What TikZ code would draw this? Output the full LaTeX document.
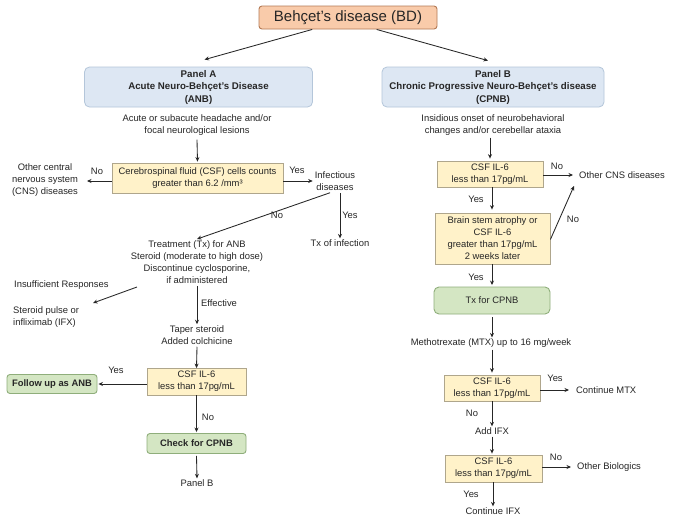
\documentclass[tikz,border=0pt]{standalone}
\usepackage{fontspec}
\setmainfont{Liberation Sans}
\usetikzlibrary{arrows.meta,calc}
\definecolor{peachfill}{HTML}{F9CBAA}
\definecolor{peachline}{HTML}{B47A55}
\definecolor{bluefill}{HTML}{DDE7F3}
\definecolor{blueline}{HTML}{B4C6DA}
\definecolor{yelfill}{HTML}{FFF2C9}
\definecolor{yelline}{HTML}{AFA68C}
\definecolor{grnfill}{HTML}{D4E6C3}
\definecolor{grnline}{HTML}{8FAE7B}
\definecolor{inkc}{HTML}{262626}
\tikzset{
  txt/.style={font=\fontsize{9.4}{12.2}\selectfont, text=inkc, align=center, inner sep=2pt},
  lbl/.style={font=\fontsize{9.4}{12}\selectfont, text=inkc, inner sep=0pt},
  yelbox/.style={draw=yelline, fill=yelfill, line width=0.8pt, align=center, inner sep=0pt,
     font=\fontsize{9.4}{12}\selectfont, text=inkc},
  grnbox/.style={draw=grnline, fill=grnfill, line width=0.9pt, rounded corners=3pt, align=center,
     inner sep=0pt, font=\fontsize{9.4}{12}\selectfont, text=inkc},
  bluebox/.style={draw=blueline, fill=bluefill, line width=0.8pt, rounded corners=5pt, align=center,
     inner sep=0pt, font=\bfseries\fontsize{9.7}{12.5}\selectfont, text=inkc},
  arr/.style={draw=inkc, line width=0.85pt, -{Stealth[length=4.5pt,width=4pt]}},
  ln/.style={draw=inkc, line width=0.85pt},
}
\begin{document}
\begin{tikzpicture}[x=1pt,y=-1pt]
\useasboundingbox[fill=white] (0,0) rectangle (673,517);

% top
\node[draw=peachline, fill=peachfill, line width=0.9pt, rounded corners=3pt, minimum width=178pt,
  minimum height=23pt, inner sep=0pt, font=\fontsize{15}{17}\selectfont, text=inkc] (bd) at (348,17.5) {Behçet's disease (BD)};
\node[bluebox, minimum width=228pt, minimum height=40pt] (pa) at (198.5,87)
  {Panel A\\Acute Neuro-Behçet's Disease\\(ANB)};
\node[bluebox, minimum width=222pt, minimum height=40pt] (pb) at (493,87)
  {Panel B\\Chronic Progressive Neuro-Behçet's disease\\(CPNB)};
\draw[arr] ($(bd.south west)!0.3!(bd.south east)$) -- ([xshift=6pt,yshift=7pt]pa.north);
\draw[arr] ($(bd.south west)!0.66!(bd.south east)$) -- ([xshift=-5pt,yshift=6pt]pb.north);

% Panel A
\node[txt] (acute) at (197,125) {Acute or subacute headache and/or\\focal neurological lesions};
\node[yelbox, minimum width=171pt, minimum height=30pt] (csf) at (197.5,178)
  {Cerebrospinal fluid (CSF) cells counts\\greater than 6.2 /mm³};
\draw[arr] ([yshift=-2pt]acute.south) -- ([yshift=1pt]csf.north);
\node[txt] (other) at (45,180) {Other central\\nervous system\\(CNS) diseases};
\coordinate (otherend) at (87,181);
\draw[arr] (csf.west |- otherend) -- (otherend);
\node[lbl] at (97,171) {No};
\node[txt] (infect) at (335,181) {Infectious\\diseases};
\draw[arr] (csf.east |- 0,181) -- (infect.west);
\node[lbl] at (297,170) {Yes};
\node[txt] (txinf) at (340,243) {Tx of infection};
\node[txt] (treat) at (197,262)
  {Treatment (Tx) for ANB\\Steroid (moderate to high dose)\\Discontinue cyclosporine,\\if administered};
\draw[arr] ([xshift=-5pt]infect.south) -- ([yshift=-1pt]treat.north);
\node[lbl] at (277,215) {No};
\draw[arr] (txinf.north |- infect.south) -- ([yshift=-1pt]txinf.north);
\node[lbl] at (350,215) {Yes};
\node[lbl, anchor=west] (insuf) at (14,285) {Insufficient Responses};
\node[txt, align=left, anchor=west] (pulse) at (11,317) {Steroid pulse or\\infliximab (IFX)};
\coordinate (insA) at (137,287);
\coordinate (insB) at (93,303);
\draw[arr] (insA) -- (insB);
\node[txt] (taper) at (197,335) {Taper steroid\\Added colchicine};
\draw[arr] (treat.south) -- ([yshift=-1pt]taper.north);
\node[lbl] at (219,303) {Effective};
\node[yelbox, minimum width=99pt, minimum height=27pt] (il6a) at (196.5,381.5)
  {CSF IL-6\\less than 17pg/mL};
\draw[arr] (taper.south) -- ([yshift=-0.5pt]il6a.north);
\node[grnbox, minimum width=90pt, minimum height=19pt, font=\bfseries\fontsize{9.4}{12}\selectfont] (follow) at (52,384)
  {Follow up as ANB};
\draw[arr] (il6a.west |- follow.east) -- ([xshift=1pt]follow.east);
\node[lbl] at (116,370) {Yes};
\node[grnbox, minimum width=99pt, minimum height=20pt, font=\bfseries\fontsize{9.4}{12}\selectfont] (check) at (196.5,443.5)
  {Check for CPNB};
\draw[arr] (il6a.south) -- ([yshift=1pt]check.north);
\node[lbl] at (208,417) {No};
\node[txt] (panelbt) at (197,483) {Panel B};
\draw[arr] ([yshift=-2pt]check.south) -- ([yshift=-1pt]panelbt.north);

% Panel B
\node[txt] (insid) at (493,125) {Insidious onset of neurobehavioral\\changes and/or cerebellar ataxia};
\node[yelbox, minimum width=106pt, minimum height=26pt] (b1) at (490,174)
  {CSF IL-6\\less than 17pg/mL};
\draw[arr] (b1.north |- insid.south) -- ([yshift=2pt]b1.north);
\node[lbl, anchor=west] (othercns) at (579,175) {Other CNS diseases};
\draw[arr] (b1.east |- othercns.west) -- ([xshift=-6pt]othercns.west);
\node[lbl] at (557,166) {No};
\node[yelbox, minimum width=115pt, minimum height=51pt] (b2) at (492.5,238.5)
  {Brain stem atrophy or\\CSF IL-6\\greater than 17pg/mL\\2 weeks later};
\draw[arr] (b1.south -| 492,0) -- ([yshift=3pt]b2.north -| 492,0);
\node[lbl] at (476,199) {Yes};
\draw[arr] ([yshift=-1pt]b2.east) -- ([xshift=-5pt,yshift=-11pt]othercns.west);
\node[lbl] at (573,219) {No};
\node[grnbox, rounded corners=5pt, minimum width=116pt, minimum height=27pt] (tx) at (492,300.5)
  {Tx for CPNB};
\draw[arr] (b2.south -| 492,0) -- ([yshift=1.5pt]tx.north);
\node[lbl] at (476,277) {Yes};
\node[txt] (mtx) at (491,343) {Methotrexate (MTX) up to 16 mg/week};
\draw[arr] ([yshift=-3pt]tx.south) -- ([yshift=-1pt]mtx.north -| tx.south);
\node[yelbox, minimum width=96pt, minimum height=26pt] (b3) at (492,388)
  {CSF IL-6\\less than 17pg/mL};
\draw[arr] (mtx.south -| b3.north) -- ([yshift=2pt]b3.north);
\node[lbl, anchor=west] (contmtx) at (576,390) {Continue MTX};
\draw[arr] (b3.east |- contmtx.west) -- ([xshift=-7pt]contmtx.west);
\node[lbl] at (555,378) {Yes};
\node[txt] (addifx) at (492,431) {Add IFX};
\draw[arr] (b3.south) -- ([yshift=-1pt]addifx.north);
\node[lbl] at (472,413) {No};
\node[yelbox, minimum width=97pt, minimum height=27pt] (b4) at (493.5,468.5)
  {CSF IL-6\\less than 17pg/mL};
\draw[arr] (addifx.south -| 492,0) -- ([yshift=1pt]b4.north -| 492,0);
\node[lbl, anchor=west] (otherbio) at (577,467) {Other Biologics};
\draw[arr] (b4.east |- otherbio.west) -- ([xshift=-6pt]otherbio.west);
\node[lbl] at (556,457) {No};
\node[txt] (contifx) at (493,511) {Continue IFX};
\draw[arr] (b4.south -| 493,0) -- ([yshift=-1pt]contifx.north);
\node[lbl] at (471,494) {Yes};
\end{tikzpicture}
\end{document}
